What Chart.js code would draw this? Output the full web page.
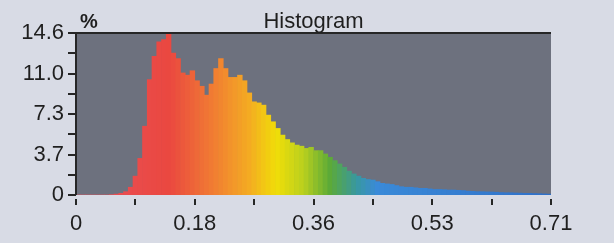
<!DOCTYPE html>
<html>
<head>
<meta charset="utf-8">
<script src="https://cdn.jsdelivr.net/npm/chart.js@4/dist/chart.umd.min.js"></script>
<style>
  html, body { margin: 0; padding: 0; background: #d8dbe5; }
  canvas { display: block; }
</style>
</head>
<body>
<canvas id="histo" width="614" height="243"></canvas>
<script>
// Bin width of the histogram (x units) and the percentage in each bin
const binWidth = 0.0071;
const percents = [
  0, 0, 0, 0, 0, 0, 0, 0.03, 0.08, 0.15,
  0.3, 0.7, 1.7, 3.3, 6.2, 10.4, 12.5, 13.8, 14.0, 14.5,
  12.8, 12.3, 11.0, 10.8, 11.2, 10.3, 9.8, 9.0, 10.0, 11.4,
  12.3, 11.4, 10.6, 10.6, 10.8, 10.3, 9.2, 8.4, 8.3, 8.1,
  7.2, 6.6, 6.0, 5.4, 5.0, 4.7, 4.5, 4.4, 4.2, 4.3,
  4.0, 4.0, 3.7, 3.4, 3.1, 2.8, 2.5, 2.15, 1.9, 1.7,
  1.5, 1.4, 1.35, 1.2, 1.05, 1.0, 0.95, 0.85, 0.75, 0.7,
  0.7, 0.65, 0.6, 0.6, 0.55, 0.5, 0.5, 0.48, 0.45, 0.45,
  0.42, 0.4, 0.35, 0.33, 0.3, 0.3, 0.28, 0.27, 0.25, 0.22,
  0.2, 0.2, 0.18, 0.17, 0.15, 0.15, 0.13, 0.12, 0.1, 0.08
];

// Axis ticks
const xTickValues = [0, 0.1775, 0.355, 0.5325, 0.71];
const xTickLabels = ["0", "0.18", "0.36", "0.53", "0.71"];
const yTickValues = [0, 3.65, 7.3, 10.95, 14.6];
const yTickLabels = ["0", "3.7", "7.3", "11.0", "14.6"];

const titleText = "Histogram";
const unitText = "%";

// rainbow colour stops along x
const colorStops = [
  [0.00, [234, 80, 94]],
  [0.14, [234, 72, 64]],
  [0.20, [240, 120, 52]],
  [0.26, [244, 172, 34]],
  [0.30, [240, 222, 8]],
  [0.34, [186, 208, 30]],
  [0.38, [92, 170, 56]],
  [0.42, [56, 152, 160]],
  [0.45, [58, 138, 216]],
  [0.71, [48, 112, 200]]
];

function colorAt(x) {
  for (let i = 1; i < colorStops.length; i++) {
    const [x1, c1] = colorStops[i];
    const [x0, c0] = colorStops[i - 1];
    if (x <= x1) {
      const t = (x - x0) / (x1 - x0);
      const c = c0.map((v, k) => Math.round(v + (c1[k] - v) * t));
      return `rgb(${c[0]},${c[1]},${c[2]})`;
    }
  }
  const c = colorStops[colorStops.length - 1][1];
  return `rgb(${c[0]},${c[1]},${c[2]})`;
}

const points = percents.map((p, i) => ({ x: (i + 0.5) * binWidth, y: p }));

const textColor = "#1f1f1f";
const font = { family: "'Liberation Sans', Arial, sans-serif", size: 22 };

// plot background, axis line, tick marks and titles
const decor = {
  id: "decor",
  beforeDatasetsDraw(chart) {
    const { ctx, chartArea: a } = chart;
    ctx.save();
    ctx.fillStyle = "#6d717e";
    ctx.fillRect(a.left, a.top, a.right - a.left, a.bottom - a.top);
    ctx.restore();
  },
  afterDraw(chart) {
    const { ctx, chartArea: a, scales } = chart;
    ctx.save();
    ctx.strokeStyle = "#262626";
    ctx.lineWidth = 2;
    // top border
    ctx.beginPath();
    ctx.moveTo(a.left, a.top);
    ctx.lineTo(a.right, a.top);
    ctx.stroke();
    // y axis line
    ctx.beginPath();
    ctx.moveTo(a.left, a.top);
    ctx.lineTo(a.left, a.bottom);
    ctx.stroke();
    // y ticks, major plus midpoints
    const yv = [];
    yTickValues.forEach((v, i) => {
      yv.push(v);
      if (i < yTickValues.length - 1) yv.push((v + yTickValues[i + 1]) / 2);
    });
    yv.forEach(v => {
      const y = Math.round(scales.y.getPixelForValue(v));
      ctx.beginPath();
      ctx.moveTo(a.left - 8, y);
      ctx.lineTo(a.left, y);
      ctx.stroke();
    });
    // x ticks, below with a gap
    const xv = [];
    xTickValues.forEach((v, i) => {
      xv.push(v);
      if (i < xTickValues.length - 1) xv.push((v + xTickValues[i + 1]) / 2);
    });
    xv.forEach(v => {
      const x = Math.round(scales.x.getPixelForValue(v));
      ctx.beginPath();
      ctx.moveTo(x, a.bottom + 4);
      ctx.lineTo(x, a.bottom + 10);
      ctx.stroke();
    });
    // titles
    ctx.fillStyle = textColor;
    ctx.font = "22px 'Liberation Sans', Arial, sans-serif";
    ctx.textAlign = "center";
    ctx.textBaseline = "alphabetic";
    ctx.fillText(titleText, (a.left + a.right) / 2, 28);
    ctx.font = "bold 20px 'Liberation Sans', Arial, sans-serif";
    ctx.textAlign = "left";
    ctx.fillText(unitText, 80, 28);
    ctx.restore();
  }
};

new Chart(document.getElementById("histo"), {
  type: "bar",
  data: {
    datasets: [{
      data: points,
      backgroundColor: c => colorAt(c.parsed ? c.parsed.x : 0),
      borderWidth: 0,
      barPercentage: 1,
      categoryPercentage: 1
    }]
  },
  plugins: [decor],
  options: {
    responsive: false,
    animation: false,
    layout: { padding: { left: 0, right: 63, top: 33, bottom: 0 } },
    plugins: { legend: { display: false }, tooltip: { enabled: false }, title: { display: false } },
    scales: {
      x: {
        type: "linear",
        min: 0,
        max: 0.71,
        offset: false,
        grid: { display: false, drawTicks: false },
        border: { display: false },
        afterBuildTicks: s => { s.ticks = xTickValues.map(v => ({ value: v })); },
        afterFit: s => { s.height = 48; },
        ticks: {
          autoSkip: false,
          maxRotation: 0,
          padding: 16,
          color: textColor,
          font: font,
          callback: (v, i) => xTickLabels[i]
        }
      },
      y: {
        min: 0,
        max: 14.6,
        grid: { display: false, drawTicks: false },
        border: { display: false },
        afterBuildTicks: s => { s.ticks = yTickValues.map(v => ({ value: v })); },
        afterFit: s => { s.width = 76; },
        ticks: {
          padding: 12,
          color: textColor,
          font: font,
          callback: (v, i) => yTickLabels[i]
        }
      }
    }
  }
});
</script>
</body>
</html>
